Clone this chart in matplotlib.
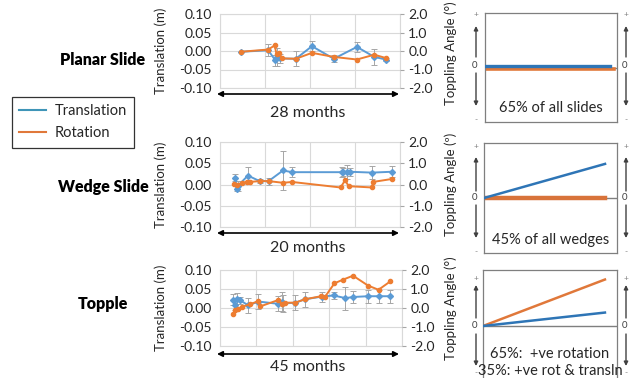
import matplotlib
matplotlib.use("Agg")
import matplotlib.pyplot as plt
from matplotlib.lines import Line2D
import numpy as np

plt.rcParams['font.family'] = ['Lato', 'DejaVu Sans']

# ---------------- data ----------------
# Planar slide (28 months)
p_tr_month = [3.3, 7.5, 8.6, 8.9, 9.3, 11.8, 14.3, 17.7, 21.3, 24.0, 25.8]
p_tr_val = [-0.002, 0.002, -0.025, -0.016, -0.020, -0.021, 0.013, -0.021, 0.011, -0.016, -0.023]
p_tr_err = [0.0, 0.016, 0.015, 0.025, 0.012, 0.020, 0.013, 0.010, 0.014, 0.022, 0.005]
p_rot_month = [3.3, 7.5, 8.5, 8.8, 9.2, 9.6, 11.8, 14.3, 17.7, 21.3, 24.0, 25.8]
p_rot_deg = [-0.04, 0.08, 0.30, -0.18, -0.10, -0.40, -0.42, -0.10, -0.32, -0.46, -0.20, -0.38]

# Wedge slide (20 months)
w_tr_month = [1.7, 1.85, 2.0, 3.1, 4.4, 5.4, 7.0, 8.0, 13.5, 13.7, 14.1, 14.4, 16.9, 19.1]
w_tr_val = [0.016, -0.010, -0.003, 0.021, 0.008, 0.008, 0.033, 0.029, 0.029, 0.030, 0.029, 0.030, 0.028, 0.030]
w_tr_err = [0.008, 0.006, 0.012, 0.020, 0.004, 0.008, 0.045, 0.012, 0.012, 0.010, 0.016, 0.010, 0.015, 0.013]
w_rot_month = [1.5, 1.85, 2.4, 3.0, 3.3, 4.4, 5.4, 7.0, 8.0, 13.4, 13.9, 14.3, 16.9, 17.0, 19.1]
w_rot_deg = [0.04, -0.04, 0.08, 0.12, 0.12, 0.16, 0.16, 0.08, 0.12, -0.14, 0.20, -0.08, -0.14, 0.12, 0.26]

# Topple (45 months)
t_tr_month = [3.3, 3.7, 4.1, 5.0, 7.0, 9.5, 14.4, 15.3, 15.7, 18.6, 21.0, 25.2, 28.1, 31.0, 33.0, 36.6, 39.2, 42.1]
t_tr_val = [0.022, 0.008, 0.025, 0.020, 0.007, 0.017, 0.011, 0.016, 0.012, 0.014, 0.023, 0.030, 0.033, 0.026, 0.029, 0.031, 0.031, 0.031]
t_tr_err = [0.015, 0.012, 0.015, 0.010, 0.020, 0.020, 0.020, 0.025, 0.022, 0.020, 0.020, 0.013, 0.010, 0.030, 0.015, 0.017, 0.017, 0.017]
t_rot_month = [3.3, 3.7, 4.5, 5.4, 7.4, 9.5, 9.9, 14.4, 15.3, 16.1, 18.6, 21.0, 25.0, 26.0, 28.3, 30.5, 32.9, 36.6, 39.2, 42.1]
t_rot_deg = [-0.30, -0.12, -0.04, 0.06, 0.20, 0.36, 0.08, 0.42, 0.22, 0.28, 0.28, 0.46, 0.62, 0.60, 1.30, 1.50, 1.70, 1.18, 0.96, 1.40]

durations = [28, 20, 45]
grid_steps = [7, 5, 9]
mode_names = ["Planar Slide", "Wedge Slide", "Topple"]
right_labels = ["Toppling Angle (\u00b0)", "Toppling Angle (\u00ba)", "Toppling Angle (\u00b0)"]

# schematic end values (translation, rotation) as fraction of panel half-height
sch_tr = [0.02, 0.62, 0.24]
sch_rot = [-0.03, 0.0, 0.83]
sch_text = ["65% of all slides", "45% of all wedges", "65%:  +ve rotation", "35%: +ve rot & transln"]

series = [
    (p_tr_month, p_tr_val, p_tr_err, p_rot_month, p_rot_deg),
    (w_tr_month, w_tr_val, w_tr_err, w_rot_month, w_rot_deg),
    (t_tr_month, t_tr_val, t_tr_err, t_rot_month, t_rot_deg),
]

# ---------------- layout ----------------
W, H = 635, 378
fig = plt.figure(figsize=(W / 100, H / 100), dpi=100)


def rect(x0, x1, y0, y1):
    return [x0 / W, 1 - y1 / H, (x1 - x0) / W, (y1 - y0) / H]


BLUE = '#5b9bd5'
ORANGE = '#ed7d31'
GRID = '#d9d9d9'
TXT = '#262626'
FS = 10

chart_boxes = [(220, 400, 14, 88), (220, 400, 142, 227), (220, 402, 270, 346)]
arrow_y = [94, 233, 354]
month_y = [113, 248, 367]
label_y = [60, 187, 304]

for i, (tm, tv, te, rm, rd) in enumerate(series):
    x0, x1, y0, y1 = chart_boxes[i]
    ax = fig.add_axes(rect(x0, x1, y0, y1))
    ax.set_xlim(0, durations[i])
    ax.set_ylim(-0.10, 0.10)
    ax.set_xticks(np.arange(0, durations[i] + 0.1, grid_steps[i]))
    ax.set_yticks([-0.10, -0.05, 0.0, 0.05, 0.10])
    ax.set_yticklabels(["-0.10", "-0.05", "0.00", "0.05", "0.10"])
    ax.tick_params(axis='x', length=0, labelbottom=False)
    ax.tick_params(axis='y', length=0, pad=6, labelsize=FS, colors=TXT)
    ax.grid(True, color=GRID, lw=0.8)
    for s in ax.spines.values():
        s.set_color(GRID)
        s.set_linewidth(0.8)
    ax.set_axisbelow(True)
    ax.errorbar(tm, tv, yerr=te, color=BLUE, lw=1.4, marker='D', ms=3,
                ecolor='#a6a6a6', elinewidth=0.7, capsize=2, capthick=0.7, zorder=3)
    ax.set_ylabel("Translation (m)", fontsize=9.5, color=TXT)
    ax.yaxis.set_label_coords(-(x0 - 167) / (x1 - x0), 0.5)

    ax2 = ax.twinx()
    ax2.set_ylim(-2.0, 2.0)
    ax2.set_yticks([-2.0, -1.0, 0.0, 1.0, 2.0])
    ax2.set_yticklabels(["-2.0", "-1.0", "0.0", "1.0", "2.0"])
    ax2.tick_params(axis='y', length=3, width=0.8, color='#a6a6a6', pad=3, labelsize=FS, colors=TXT)
    ax2.tick_params(axis='y', color='#a6a6a6')
    for s in ax2.spines.values():
        s.set_visible(False)
    ax2.plot(rm, rd, color=ORANGE, lw=1.4, marker='o', ms=3, zorder=4)
    ax2.set_ylabel(right_labels[i], fontsize=9.5, color=TXT)
    ax2.yaxis.set_label_coords((444 - x0) / (x1 - x0), 0.47 if i == 0 else 0.5)

    # schematic panel
    sx0, sx1, sy0, sy1 = [(485, 617, 13, 122), (484, 617, 143, 253), (483, 617, 270, 382)][i]
    sa = fig.add_axes(rect(sx0, sx1, sy0, sy1))
    sa.set_xlim(0, 1)
    sa.set_ylim(-1, 1)
    sa.set_xticks([])
    sa.set_yticks([])
    for s in sa.spines.values():
        s.set_color('#7f7f7f')
        s.set_linewidth(0.9)
    sa.axhline(0, color='#7f7f7f', lw=1.0, zorder=1)
    if i == 0:
        sa.plot([0, 0.98], [sch_rot[i], sch_rot[i]], color='#e0783a', lw=2.6, zorder=2)
        sa.plot([0, 0.95], [sch_tr[i], sch_tr[i]], color='#2e75b6', lw=2.4, zorder=3)
    elif i == 1:
        sa.plot([0, 0.91], [0, sch_rot[i]], color='#d8733a', lw=3.2, zorder=2)
        sa.plot([0, 0.91], [0, sch_tr[i]], color='#2e75b6', lw=1.8, zorder=3)
    else:
        sa.plot([0, 0.91], [0, sch_rot[i]], color='#e0783a', lw=1.8, zorder=2)
        sa.plot([0, 0.91], [0, sch_tr[i]], color='#2e75b6', lw=1.8, zorder=3)

# ---------------- overlay for annotations ----------------
ov = fig.add_axes([0, 0, 1, 1], zorder=10)
ov.set_xlim(0, W)
ov.set_ylim(H, 0)
ov.axis('off')
ov.patch.set_alpha(0)

for i in range(3):
    ov.annotate('', xy=(217, arrow_y[i]), xytext=(399, arrow_y[i]),
                arrowprops=dict(arrowstyle='<|-|>', color='black', lw=1.2,
                                mutation_scale=8, shrinkA=0, shrinkB=0))
    ov.text(308, month_y[i], f"{durations[i]} months", fontsize=11.5, ha='center', va='center', color=TXT)
    ov.text(103, label_y[i], mode_names[i], fontsize=11.5, fontweight='heavy', ha='center', va='center',
            color='black')

# schematic side arrows
side = [
    dict(plus=15, head_up=26, shaft_up=57, zero=65, shaft_dn=73, head_dn=106, minus=120),
    dict(plus=147, head_up=157, shaft_up=191, zero=198, shaft_dn=205, head_dn=238, minus=252),
    dict(plus=278, head_up=285, shaft_up=318, zero=326, shaft_dn=334, head_dn=366, minus=373),
]
for i, d in enumerate(side):
    for xx in (476, 626):
        ov.annotate('', xy=(xx, d['head_up']), xytext=(xx, d['shaft_up']),
                    arrowprops=dict(arrowstyle='-|>', color='#404040', lw=1.0, mutation_scale=6,
                                    shrinkA=0, shrinkB=0))
        ov.annotate('', xy=(xx, d['head_dn']), xytext=(xx, d['shaft_dn']),
                    arrowprops=dict(arrowstyle='-|>', color='#404040', lw=1.0, mutation_scale=6,
                                    shrinkA=0, shrinkB=0))
        ov.text(xx, d['plus'], '+', fontsize=6, ha='center', va='center', color='#7f7f7f')
        ov.text(xx, d['minus'], '-', fontsize=6, ha='center', va='center', color='#7f7f7f')
        ov.text(xx - 1, d['zero'], '0', fontsize=7, ha='center', va='center', color='#404040')

ov.text(551, 108, sch_text[0], fontsize=10.5, ha='center', va='center', color=TXT)
ov.text(551, 240, sch_text[1], fontsize=10.5, ha='center', va='center', color=TXT)
ov.text(550, 354, sch_text[2], fontsize=10.5, ha='center', va='center', color=TXT)
ov.text(550, 371, sch_text[3], fontsize=10.5, ha='center', va='center', color=TXT)

# legend
handles = [Line2D([], [], color='#3f95b8', lw=1.5), Line2D([], [], color='#e0783a', lw=1.5)]
leg = fig.legend(handles, ["Translation", "Rotation"], loc='upper left',
                 bbox_to_anchor=(12 / W, 1 - 97 / H), fontsize=10.5, frameon=True, fancybox=False,
                 edgecolor='black', handlelength=1.8, handletextpad=0.6, borderpad=0.5,
                 labelspacing=0.55, borderaxespad=0)
leg.get_frame().set_linewidth(0.9)
for t in leg.get_texts():
    t.set_color(TXT)

fig.savefig("out.png", dpi=100)
